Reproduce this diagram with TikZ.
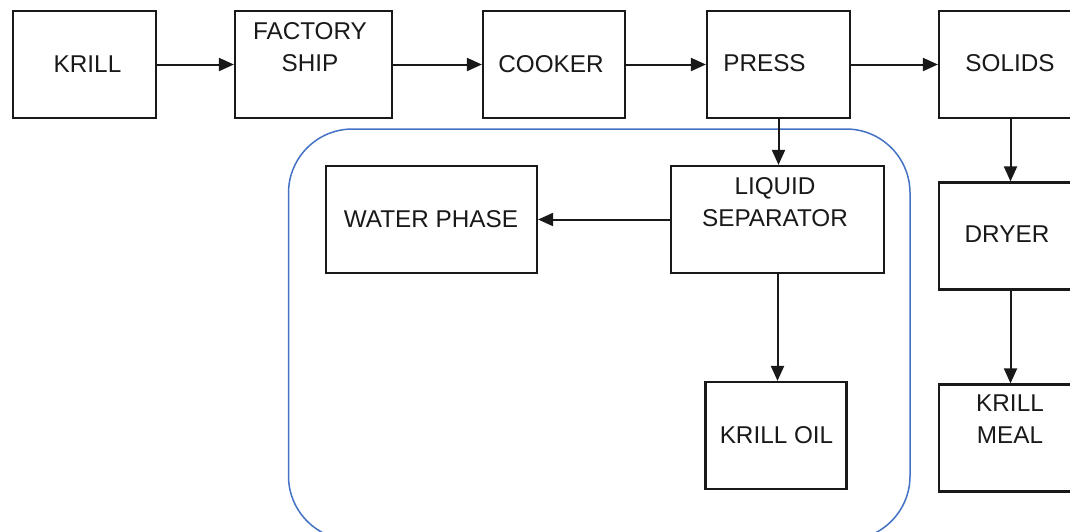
\documentclass[tikz,border=0pt]{standalone}
\usepackage{fontspec}
\setmainfont{Liberation Sans}
\usetikzlibrary{arrows.meta}
\definecolor{grpblue}{RGB}{68,114,196}
\begin{document}
\begin{tikzpicture}[x=1pt,y=-1pt,
  box/.style={draw=black!90, line width=2.2pt, minimum width=#1, minimum height=107pt, inner sep=0pt},
  box/.default=143pt,
  lbl/.style={inner sep=0pt, anchor=base, font=\fontsize{24.3}{32}\selectfont, text=black!90, align=center},
  flow/.style={draw=black!90, line width=2pt, -{Triangle[length=15pt,width=13pt]}},
  group/.style={draw=grpblue, line width=1.5pt, rounded corners=64pt}]
\useasboundingbox (0,0) rectangle (1070,531);
\fill[white] (0,0) rectangle (1070,531);
\clip (0,0) rectangle (1070,531);
% group
\draw[group] (288.5,129) rectangle (910,540);
% boxes
\node[box] (krill) at (84.5,64.5) {};
\node[box=157pt] (ship) at (313.5,64.5) {};
\node[box=142pt] (cooker) at (554,64.5) {};
\node[box] (press) at (778.5,64.5) {};
\node[box] (solids) at (1010.5,64.5) {};
\node[box=211pt] (water) at (431.5,219.5) {};
\node[box=213pt] (sep) at (777.5,219.5) {};
\node[box=141pt] (oil) at (776,435.5) {};
\node[box] (dryer) at (1010.5,236) {};
\node[box] (meal) at (1010.5,438) {};
% labels
\node[lbl] (krillt) at (87.5,72) {KRILL};
\node[lbl] (shipt) at (310,71) {FACTORY\\SHIP};
\node[lbl] (cookert) at (551,72) {COOKER};
\node[lbl] (presst) at (764.5,71) {PRESS};
\node[lbl] (solidst) at (1010,71) {SOLIDS};
\node[lbl] (watert) at (431,227) {WATER PHASE};
\node[lbl] (sept) at (775,226) {LIQUID\\SEPARATOR};
\node[lbl] (dryert) at (1007,242) {DRYER};
\node[lbl] (oilt) at (776.5,443) {KRILL OIL};
\node[lbl] (mealt) at (1010,443) {KRILL\\MEAL};
% connectors
\draw[flow] (krill) -- (ship);
\draw[flow] (ship) -- (cooker);
\draw[flow] (cooker) -- (press);
\draw[flow] (press) -- (solids);
\draw[flow] (press.south) -- (press.south |- sep.north);
\draw[flow] (sep.west) -- (water.east);
\draw[flow] (sep.south) -- (sep.south |- oil.north);
\draw[flow] (solids.south) -- (solids.south |- dryer.north);
\draw[flow] (dryer.south) -- (dryer.south |- meal.north);
\end{tikzpicture}
\end{document}
